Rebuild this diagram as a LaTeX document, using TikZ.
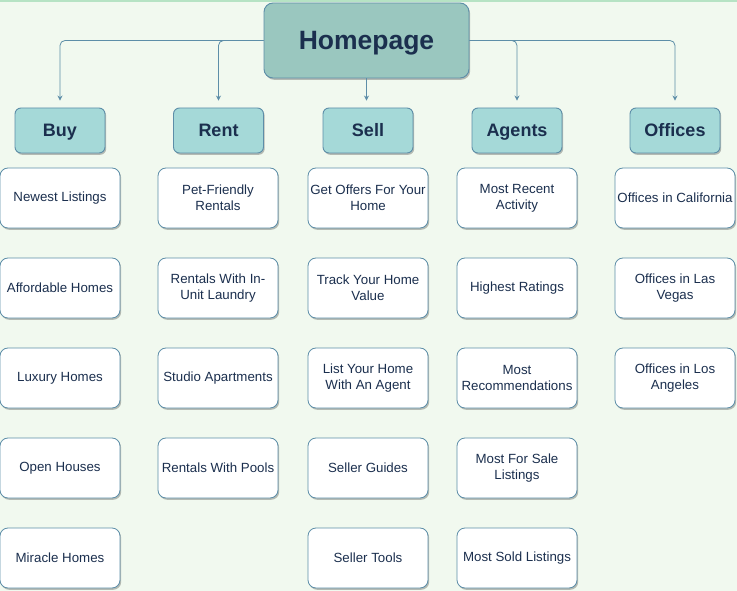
\documentclass[tikz,border=0pt]{standalone}
\usepackage{fontspec}
\setmainfont{Liberation Sans}
\usetikzlibrary{shadows,arrows.meta}
\definecolor{bgc}{HTML}{F1F9EF}
\definecolor{topline}{HTML}{B6E3C4}
\definecolor{homefill}{HTML}{9AC7BF}
\definecolor{catfill}{HTML}{A5D9D8}
\definecolor{edgec}{HTML}{5D8EA8}
\definecolor{txtc}{HTML}{1B2F4E}
\tikzset{
  boxshadow/.style={drop shadow={shadow xshift=1.2pt,shadow yshift=-1.8pt,fill=black,opacity=0.25}},
  homebox/.style={draw=edgec,line width=0.9pt,fill=homefill,rounded corners=9pt,minimum width=205pt,minimum height=75pt,font=\fontsize{26.5}{30}\selectfont\bfseries,text=txtc,text height=22pt,text depth=3pt,boxshadow},
  catbox/.style={draw=edgec,line width=0.9pt,fill=catfill,rounded corners=6pt,minimum width=90pt,minimum height=45pt,font=\fontsize{18}{21}\selectfont\bfseries,text=txtc,text height=15pt,text depth=2pt,boxshadow},
  leafbox/.style={draw=edgec,line width=0.8pt,fill=white,rounded corners=8pt,minimum width=120pt,minimum height=60pt,inner sep=1pt,align=center,font=\fontsize{13.3}{16}\selectfont,text=txtc,boxshadow},
  conn/.style={draw=edgec,line width=0.8pt,rounded corners=5pt,-{Stealth[length=5pt,width=5pt]},shorten >=7pt}
}
\begin{document}
\begin{tikzpicture}[x=1pt,y=-1pt]
\fill[bgc] (0,0) rectangle (737,591);
\useasboundingbox (0,0) rectangle (737,591);
\fill[topline] (0,0) rectangle (737,2);
\node[homebox] (home) at (366.5,40.5) {Homepage};
\node[catbox] (buy) at (60,130.5) {Buy};
\node[catbox] (rent) at (218.5,130.5) {Rent};
\node[catbox] (sell) at (368,130.5) {Sell};
\node[catbox] (agents) at (517,130.5) {Agents};
\node[catbox] (offices) at (675,130.5) {Offices};
\draw[conn] (home.west) -| (buy.north);
\draw[conn] (home.west) -| (rent.north);
\draw[conn] (home.south) -- (home.south |- sell.north);
\draw[conn] (home.east) -| (agents.north);
\draw[conn] (home.east) -| (offices.north);
% Buy
\node[leafbox] (b1) at (60,198) {Newest Listings};
\node[leafbox] (b2) at (60,288) {Affordable Homes};
\node[leafbox] (b3) at (60,378) {Luxury Homes};
\node[leafbox] (b4) at (60,468) {Open Houses};
\node[leafbox] (b5) at (60,558) {Miracle Homes};
% Rent
\node[leafbox] (r1) at (218,198) {Pet-Friendly\\Rentals};
\node[leafbox] (r2) at (218,288) {Rentals With In-\\Unit Laundry};
\node[leafbox] (r3) at (218,378) {Studio Apartments};
\node[leafbox] (r4) at (218,468) {Rentals With Pools};
% Sell
\node[leafbox] (s1) at (368,198) {Get Offers For Your\\Home};
\node[leafbox] (s2) at (368,288) {Track Your Home\\Value};
\node[leafbox] (s3) at (368,378) {List Your Home\\With An Agent};
\node[leafbox] (s4) at (368,468) {Seller Guides};
\node[leafbox] (s5) at (368,558) {Seller Tools};
% Agents
\node[leafbox] (a1) at (517,198) {Most Recent\\Activity};
\node[leafbox] (a2) at (517,288) {Highest Ratings};
\node[leafbox] (a3) at (517,378) {Most\\Recommendations};
\node[leafbox] (a4) at (517,468) {Most For Sale\\Listings};
\node[leafbox] (a5) at (517,558) {Most Sold Listings};
% Offices
\node[leafbox] (o1) at (675,198) {Offices in California};
\node[leafbox] (o2) at (675,288) {Offices in Las\\Vegas};
\node[leafbox] (o3) at (675,378) {Offices in Los\\Angeles};
\end{tikzpicture}
\end{document}
